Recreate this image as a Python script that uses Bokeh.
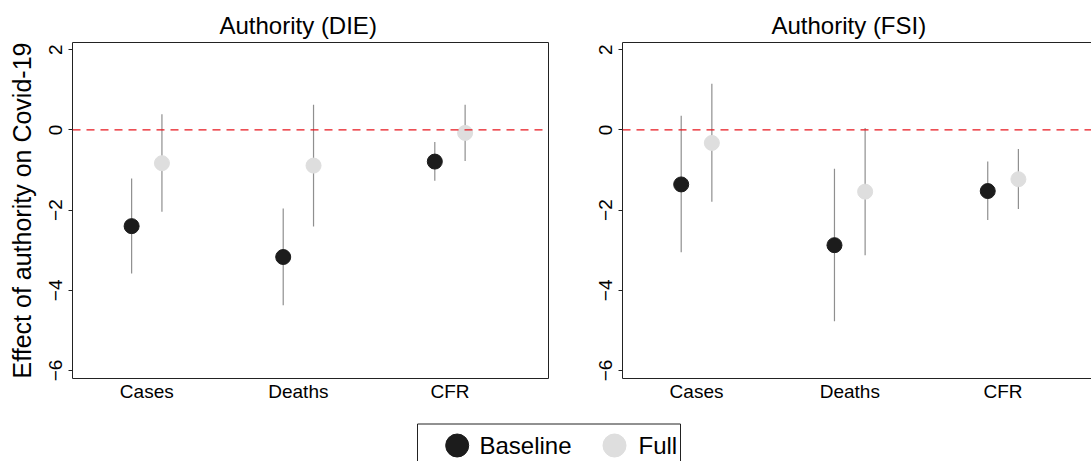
from bokeh.plotting import figure
from bokeh.layouts import column, row
from bokeh.models import Range1d, FixedTicker, LinearAxis, Span, Title, ColumnDataSource
from bokeh.core.properties import value
from bokeh.embed import file_html
from bokeh.resources import INLINE

# coefficient estimates with confidence bounds
categories = ["Cases", "Deaths", "CFR"]

die_base = [-2.40, -3.17, -0.79]
die_base_lo = [-3.58, -4.37, -1.27]
die_base_hi = [-1.21, -1.96, -0.30]
die_full = [-0.83, -0.89, -0.075]
die_full_lo = [-2.04, -2.41, -0.775]
die_full_hi = [0.39, 0.625, 0.625]

fsi_base = [-1.36, -2.875, -1.525]
fsi_base_lo = [-3.05, -4.775, -2.25]
fsi_base_hi = [0.35, -0.97, -0.79]
fsi_full = [-0.325, -1.54, -1.23]
fsi_full_lo = [-1.79, -3.125, -1.975]
fsi_full_hi = [1.15, 0.05, -0.475]

y_ticks = [-6, -4, -2, 0, 2]
legend_labels = ["Baseline", "Full"]

FONT = "Liberation Sans"
DARK = "#1c1c1c"
LIGHT = "#dedede"
BAR = "#8f8f8f"
FRAME = "#222222"


def panel(title, est, x_start, x_end, width, left, right, title_offset,
          ylabel=None, right_line=True):
    p = figure(width=width, height=410, x_range=Range1d(x_start, x_end),
               y_range=Range1d(-6.2, 2.18), output_backend="svg", toolbar_location=None,
               min_border_left=left, min_border_right=right, min_border_top=42,
               min_border_bottom=32)
    p.grid.visible = False
    p.outline_line_color = None

    p.title = Title(text=title, align="left", offset=title_offset, standoff=8,
                    text_font=FONT, text_font_size="24px", text_font_style="normal",
                    text_color="black")

    xs = list(range(1, len(categories) + 1))
    p.xaxis.ticker = FixedTicker(ticks=xs)
    p.xaxis.major_label_overrides = {x: c for x, c in zip(xs, categories)}
    p.xaxis.major_tick_out = 0
    p.xaxis.major_tick_in = 0
    p.xaxis.major_label_standoff = 2
    p.yaxis.ticker = FixedTicker(ticks=y_ticks)
    p.yaxis.major_tick_out = 4
    p.yaxis.major_tick_in = 0
    p.yaxis.major_label_standoff = 6
    p.yaxis.major_label_orientation = "parallel"
    for ax in p.axis:
        ax.axis_line_color = FRAME
        ax.major_tick_line_color = FRAME
        ax.minor_tick_line_color = None
        ax.major_label_text_font = FONT
        ax.major_label_text_font_size = "19px"
        ax.major_label_text_color = "black"
    if ylabel:
        p.yaxis.axis_label = ylabel
        p.yaxis.axis_label_text_font = FONT
        p.yaxis.axis_label_text_font_size = "25px"
        p.yaxis.axis_label_text_font_style = "normal"
        p.yaxis.axis_label_text_color = "black"
        p.yaxis.axis_label_standoff = 11

    # top (and right) border of the plot region
    sides = ["above", "right"] if right_line else ["above"]
    for side in sides:
        p.add_layout(LinearAxis(ticker=FixedTicker(ticks=[]), axis_line_color=FRAME,
                                major_tick_out=0, minor_tick_out=0,
                                major_label_text_font_size="0px"), side)

    p.add_layout(Span(location=0, dimension="width", line_color="#e8161e",
                      line_width=1.3, line_dash="8 6"))

    base, base_lo, base_hi, full, full_lo, full_hi = est
    src_b = ColumnDataSource(dict(x=[x - 0.1 for x in xs], y=base, lo=base_lo, hi=base_hi))
    src_f = ColumnDataSource(dict(x=[x + 0.1 for x in xs], y=full, lo=full_lo, hi=full_hi))
    for src, col in [(src_b, DARK), (src_f, LIGHT)]:
        p.segment(x0="x", y0="lo", x1="x", y1="hi", source=src, line_color=BAR, line_width=1.2)
        p.scatter(x="x", y="y", source=src, size=15, fill_color=col, line_color=col)
    return p


p1 = panel("Authority (DIE)",
           (die_base, die_base_lo, die_base_hi, die_full, die_full_lo, die_full_hi),
           0.51, 3.65, 560, 72, 12, 147, ylabel="Effect of authority on Covid-19")
p2 = panel("Authority (FSI)",
           (fsi_base, fsi_base_lo, fsi_base_hi, fsi_full, fsi_full_lo, fsi_full_hi),
           0.517, 3.577, 531, 62, 0, 149, right_line=False)

# legend strip, drawn in page pixel coordinates
leg = figure(width=1091, height=51, x_range=Range1d(0, 1091), y_range=Range1d(461, 410),
             output_backend="svg", toolbar_location=None, min_border=0,
             x_axis_type=None, y_axis_type=None)
leg.grid.visible = False
leg.outline_line_color = None
leg.line([417, 417, 680, 680], [462, 423.5, 423.5, 462], line_color=FRAME, line_width=1)
leg.scatter(x=[456.7, 614], y=[445, 445], size=23, fill_color=[DARK, LIGHT],
            line_color=[DARK, LIGHT])
leg.text(x=[479, 638], y=[445, 445], text=legend_labels, text_font=value(FONT),
         text_font_size="24px", text_baseline="middle", text_color="black")

layout = column(row(p1, p2), leg)
open("out.html", "w").write(file_html(layout, INLINE))
